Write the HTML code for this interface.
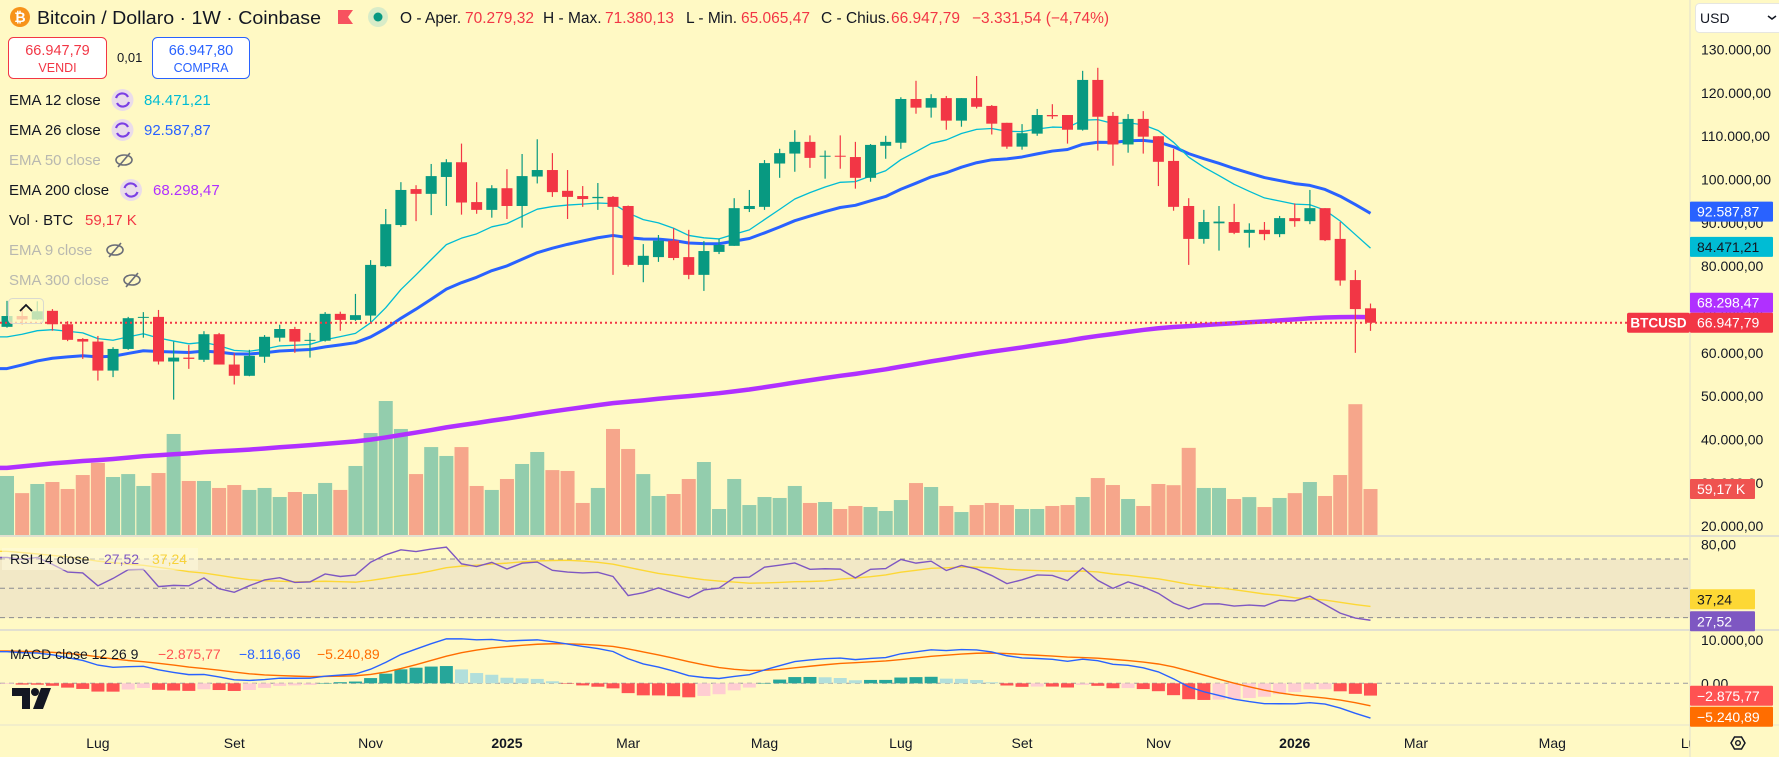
<!DOCTYPE html>
<html><head><meta charset="utf-8"><title>BTCUSD 1W</title>
<style>
html,body{margin:0;padding:0;background:#fff9c4;}
svg{display:block;font-family:"Liberation Sans",sans-serif;}
</style></head>
<body>
<svg id="chart" xmlns="http://www.w3.org/2000/svg" width="1779" height="757" viewBox="0 0 1779 757">
<defs>
<clipPath id="plotClip"><rect x="0" y="0" width="1690" height="536"/></clipPath>
<clipPath id="rsiClip"><rect x="0" y="537" width="1690" height="92"/></clipPath>
<clipPath id="macdClip"><rect x="0" y="631" width="1690" height="93"/></clipPath>
<clipPath id="timeClip"><rect x="0" y="726" width="1690" height="31"/></clipPath>
</defs>
<rect x="0" y="0" width="1779" height="757" fill="#fff9c4"/>
<rect x="0" y="559.3" width="1690" height="58.7" fill="#f2e8c6"/>
<g id="gVol" clip-path="url(#plotClip)"></g>
<g id="gLines" clip-path="url(#plotClip)"></g>
<g id="gCandles" clip-path="url(#plotClip)"></g>
<g id="gRsi" clip-path="url(#rsiClip)"></g>
<g id="gMacd" clip-path="url(#macdClip)"></g>
<line x1="0" y1="322.7" x2="1627" y2="322.7" stroke="#f23645" stroke-width="2" stroke-dasharray="2 3"/>
<line x1="0" y1="536" x2="1779" y2="536" stroke="#e2e0d0" stroke-width="2"/>
<line x1="0" y1="630" x2="1779" y2="630" stroke="#e2e0d0" stroke-width="2"/>
<line x1="0" y1="725" x2="1779" y2="725" stroke="#e6e3cf" stroke-width="1"/>
<line x1="1690" y1="0" x2="1690" y2="757" stroke="#e2e0d0" stroke-width="1"/>
<g id="gAxis"></g>
<g id="gTime" clip-path="url(#timeClip)"></g>
<g id="gTags"></g>

<g>
<circle cx="20" cy="17" r="10" fill="#f7931a"/>
<text x="20" y="22" font-size="14" font-weight="bold" fill="#fff" text-anchor="middle">₿</text>
<text x="37" y="24" font-size="18" fill="#131722" textLength="284" lengthAdjust="spacingAndGlyphs">Bitcoin / Dollaro · 1W · Coinbase</text>
<path d="M338 10 H353 L348 17 L353 24 H338 Z" fill="#f7525f"/>
<circle cx="378" cy="17" r="10" fill="#d8ecc8"/>
<circle cx="378" cy="17" r="4.5" fill="#089981"/>
<text y="23" font-size="15.5" fill="#131722"><tspan x="400">O - Aper.</tspan><tspan x="465" fill="#f23645">70.279,32</tspan><tspan x="543">H - Max.</tspan><tspan x="605" fill="#f23645">71.380,13</tspan><tspan x="686">L - Min.</tspan><tspan x="741" fill="#f23645">65.065,47</tspan><tspan x="821">C - Chius.</tspan><tspan x="891" fill="#f23645">66.947,79</tspan><tspan x="972" fill="#f23645">−3.331,54 (−4,74%)</tspan></text>
</g>
<g>
<rect x="8.5" y="37.5" width="98" height="41" rx="5" fill="#ffffff" stroke="#f23645"/>
<text x="57.5" y="55" font-size="14.5" fill="#f23645" text-anchor="middle">66.947,79</text>
<text x="57.5" y="72" font-size="12.5" fill="#f23645" text-anchor="middle">VENDI</text>
</g>
<text x="117" y="62" font-size="13" fill="#131722">0,01</text>
<g>
<rect x="152.5" y="37.5" width="97" height="41" rx="5" fill="#ffffff" stroke="#2962ff"/>
<text x="201" y="55" font-size="14.5" fill="#2962ff" text-anchor="middle">66.947,80</text>
<text x="201" y="72" font-size="12.5" fill="#2962ff" text-anchor="middle">COMPRA</text>
</g>
<g font-size="15">
<text x="9" y="105" fill="#131722">EMA 12 close</text>
<circle cx="122.5" cy="100" r="11" fill="#eadcea"/><path d="M116 98 A6.5 6.5 0 0 1 128 97 M129 102 A6.5 6.5 0 0 1 117 103" fill="none" stroke="#7b3fe4" stroke-width="2.2"/>
<text x="144" y="105" fill="#00bcd4">84.471,21</text>
<text x="9" y="135" fill="#131722">EMA 26 close</text>
<circle cx="122.5" cy="130" r="11" fill="#eadcea"/><path d="M116 128 A6.5 6.5 0 0 1 128 127 M129 132 A6.5 6.5 0 0 1 117 133" fill="none" stroke="#7b3fe4" stroke-width="2.2"/>
<text x="144" y="135" fill="#2962ff">92.587,87</text>
<text x="9" y="165" fill="#b8b8b0">EMA 50 close</text>
<g fill="none" stroke="#6a6d78" stroke-width="1.6"><ellipse cx="124" cy="160" rx="8" ry="5"/><line x1="118" y1="167" x2="130" y2="153"/></g>
<text x="9" y="195" fill="#131722">EMA 200 close</text>
<circle cx="131" cy="190" r="11" fill="#eadcea"/><path d="M124.5 188 A6.5 6.5 0 0 1 136.5 187 M137.5 192 A6.5 6.5 0 0 1 125.5 193" fill="none" stroke="#7b3fe4" stroke-width="2.2"/>
<text x="153" y="195" fill="#b030ff">68.298,47</text>
<text x="9" y="225" fill="#131722">Vol · BTC</text>
<text x="85" y="225" fill="#f23645">59,17 K</text>
<text x="9" y="255" fill="#b8b8b0">EMA 9 close</text>
<g fill="none" stroke="#6a6d78" stroke-width="1.6"><ellipse cx="115" cy="250" rx="8" ry="5"/><line x1="109" y1="257" x2="121" y2="243"/></g>
<text x="9" y="285" fill="#b8b8b0">SMA 300 close</text>
<g fill="none" stroke="#6a6d78" stroke-width="1.6"><ellipse cx="132" cy="280" rx="8" ry="5"/><line x1="126" y1="287" x2="138" y2="273"/></g>
</g>
<g id="collapseBtn">
<rect x="8.5" y="298.5" width="35" height="25" rx="4" fill="#fff9c4" fill-opacity="0.75" stroke="#d9d9d0"/>
<path d="M20 311 L26 305 L32 311" fill="none" stroke="#131722" stroke-width="1.8"/>
</g>
<rect x="2" y="548" width="196" height="22" fill="#fffbe0" fill-opacity="0.5"/>
<text y="564" font-size="14" fill="#131722"><tspan x="10">RSI 14 close</tspan><tspan x="104" fill="#7e57c2">27,52</tspan><tspan x="152" fill="#f7d23a">37,24</tspan></text>
<text y="659" font-size="14" fill="#131722"><tspan x="10">MACD close 12 26 9</tspan><tspan x="158" fill="#ff5252">−2.875,77</tspan><tspan x="239" fill="#2962ff">−8.116,66</tspan><tspan x="317" fill="#ff6d00">−5.240,89</tspan></text>
<g>
<path d="M12 688 H30 V709 H22 V696 H12 Z" fill="#131722"/>
<circle cx="35" cy="692" r="4" fill="#131722"/>
<path d="M41 688 H51 L43 709 H33 Z" fill="#131722"/>
</g>
<g>
<rect x="1695.5" y="3.5" width="90" height="29" rx="4" fill="#ffffff" stroke="#e6e6e0"/>
<text x="1700" y="23" font-size="14" fill="#131722">USD</text>
<path d="M1768 16 L1772 19 L1776 16" fill="none" stroke="#131722" stroke-width="1.5"/>
</g>
<g>
<path d="M1731 743 L1734.5 737 H1741.5 L1745 743 L1741.5 749 H1734.5 Z" fill="none" stroke="#131722" stroke-width="1.5"/>
<circle cx="1738" cy="743" r="2.3" fill="none" stroke="#131722" stroke-width="1.4"/>
</g>
</svg>

<script>
// ---- data (prices in thousands USD, volumes in thousands BTC) ----
const opens  = [66.0,68.5,67.7,69.7,66.6,63.2,62.6,55.9,60.9,68.1,68.3,58.0,58.9,58.4,64.3,57.3,54.7,59.1,63.5,65.5,62.8,62.8,69.0,67.6,68.6,80.0,89.5,97.8,96.7,100.6,104.0,94.8,93.0,98.0,93.9,100.7,102.2,97.4,96.2,95.7,96.0,93.9,80.3,82.1,85.9,82.1,78.0,83.3,84.7,93.2,93.7,103.7,106.0,108.7,105.3,105.5,105.2,100.4,107.8,108.5,118.6,116.6,118.8,113.6,118.8,117.0,113.1,107.6,110.6,114.9,114.9,111.5,123.0,114.7,108.1,114.0,110.0,104.3,93.9,86.3,89.9,90.2,87.7,88.4,87.4,91.1,90.4,93.4,86.3,76.8,70.28];
const highs  = [72.0,70.6,71.9,70.1,67.3,63.4,63.9,61.3,68.3,69.4,69.9,62.6,61.8,65.0,64.6,59.9,60.7,64.1,66.5,66.0,64.6,69.4,69.5,73.6,81.4,93.2,99.4,98.7,103.6,104.7,108.3,99.4,98.7,102.4,105.9,109.3,106.1,102.2,98.5,99.2,96.2,94.0,85.1,87.2,88.8,88.4,85.8,86.3,95.7,97.6,104.5,107.1,111.4,110.2,106.7,110.2,108.7,108.2,110.1,119.0,122.8,119.7,119.3,118.8,123.9,117.2,113.1,112.8,116.3,117.4,114.9,125.1,125.8,115.6,115.1,115.8,110.0,107.1,95.7,93.0,93.9,94.4,89.9,90.2,91.6,94.5,97.6,93.4,90.2,79.1,71.38];
const lows   = [65.8,66.6,67.6,65.1,62.7,58.6,53.6,54.4,60.7,63.5,57.3,49.2,56.3,57.9,57.3,52.7,54.6,57.7,62.6,60.0,58.9,62.6,65.1,67.4,66.8,79.8,89.1,90.4,91.8,93.9,91.9,92.1,91.2,90.9,88.9,99.1,96.0,90.9,93.7,93.0,78.0,79.9,76.3,81.0,81.4,77.0,74.3,82.8,84.7,92.5,93.0,100.4,101.8,102.7,100.2,102.5,97.9,99.5,104.8,107.1,115.2,114.3,111.5,112.2,116.4,110.4,107.1,106.9,110.1,114.0,108.3,111.3,106.7,103.2,106.2,106.0,98.5,92.8,80.3,85.2,83.6,87.4,84.3,86.0,86.7,89.1,89.7,85.8,75.5,60.0,65.07];
const closes = [68.5,67.7,69.6,66.6,63.0,62.6,55.9,60.9,68.0,68.3,58.0,58.9,58.6,64.3,57.3,54.7,59.3,63.7,65.5,62.6,63.0,69.0,67.6,68.7,80.3,89.7,97.6,96.7,100.8,104.0,94.7,93.0,98.0,93.9,100.8,102.2,97.1,96.0,95.5,96.0,93.7,80.3,82.4,85.9,81.9,78.0,83.5,84.9,93.4,93.9,103.8,106.1,108.7,105.0,105.5,105.3,100.4,108.0,108.7,118.6,116.6,118.8,113.6,118.8,116.8,112.9,107.6,110.7,114.9,114.6,111.5,123.0,114.5,108.1,114.0,109.9,104.1,93.7,86.3,90.2,90.3,87.7,88.4,87.4,91.1,90.4,93.4,86.0,76.7,70.1,66.95];
const volumes= [75.6,54,65.5,68,59.2,76.8,92,74.3,78,63,79.3,128.5,69.3,69.3,60.5,64.2,58,60.5,49.1,55.4,52.9,66.8,58,88.2,129.7,170,134.8,78,112,100.8,112,63,58,71.8,90.7,105.8,83,81.9,41.6,60.5,134.8,109.6,78,50.4,52.9,71.8,93.2,34,71.8,39,49.1,47.9,63,41.6,42.8,34,37.8,36.5,31.5,45.3,66.7,61.7,37.8,30.2,39,41.6,39,34,34,37.8,39,49.1,73,64.2,46.6,37.8,65.5,64,111,60.5,60.5,46.6,49,36.5,47.9,54,68,50.4,76.8,166,59.17];
const ema12Seed = 62.8;
const ema26Seed = 55.4;
const ema200Seed = 33.1;
const signalSeed = 7.5;
const rsiGainSeed = 2.5;
const rsiLossSeed = 1.1;
const rsiPrior = [82,84,80,76,78,74,72,76,74,70,72,74,70];
const priceTicks = [130,120,110,100,90,80,70,60,50,40,30,20];
const timeLabels = ['Lug','Set','Nov','2025','Mar','Mag','Lug','Set','Nov','2026','Mar','Mag','Lu'];
const timeIndex  = [6,15,24,33,41,50,59,67,76,85,93,102,111];
const tagValues = {ema26:'92.587,87', ema12:'84.471,21', ema200:'68.298,47', last:'66.947,79', vol:'59,17 K', rsiMa:'37,24', rsi:'27,52', hist:'−2.875,77', signal:'−5.240,89'};

const xOf = i => 7 + 15.15*i;
const yP = p => 49.6 + (130 - p)*4.332;
const yV = v => 536 - v*0.794;
const yR = r => 588.3 - (r - 50)*1.467;
const yM = m => 683.3 - m*4.33;

const NS='http://www.w3.org/2000/svg';
function mk(tag, attrs, parent){const e=document.createElementNS(NS,tag);for(const k in attrs)e.setAttribute(k,attrs[k]);parent.appendChild(e);return e;}
const gVol=document.getElementById('gVol'), gLines=document.getElementById('gLines'), gC=document.getElementById('gCandles');
const gRsi=document.getElementById('gRsi'), gMacd=document.getElementById('gMacd');
const gAxis=document.getElementById('gAxis'), gTime=document.getElementById('gTime'), gTags=document.getElementById('gTags');
const n = closes.length;

for(let i=0;i<n;i++){
  const up = closes[i]>=opens[i];
  const r = mk('rect',{x:xOf(i)-7,y:yV(volumes[i]),width:14,height:536-yV(volumes[i]),fill:up?'#93cdad':'#f6a68b'},gVol);
  
  
}
function ema(seed, period){const a=2/(period+1);let v=seed;return closes.map(c=>(v=v+a*(c-v)));}
const e12=ema(ema12Seed,12), e26=ema(ema26Seed,26), e200=ema(ema200Seed,200);
function linePts(arr, yf){let s='0,'+yf(arr[0]);arr.forEach((v,i)=>{s+=' '+xOf(i)+','+yf(v);});return s;}
const l200=mk('polyline',{points:linePts(e200,yP),fill:'none',stroke:'#b030ff',"stroke-width":4.5,"stroke-linejoin":'round'},gLines);


const l26=mk('polyline',{points:linePts(e26,yP),fill:'none',stroke:'#2962ff',"stroke-width":3,"stroke-linejoin":'round'},gLines);


const l12=mk('polyline',{points:linePts(e12,yP),fill:'none',stroke:'#00bcd4',"stroke-width":1.3,"stroke-linejoin":'round'},gLines);


for(let i=0;i<n;i++){
  const up=closes[i]>=opens[i], col=up?'#089981':'#f23645', x=xOf(i);
  const g=mk('g',{},gC);
  
  
  mk('line',{x1:x,x2:x,y1:yP(highs[i]),y2:yP(lows[i]),stroke:col,"stroke-width":1.2},g);
  const top=yP(Math.max(opens[i],closes[i])), bot=yP(Math.min(opens[i],closes[i]));
  mk('rect',{x:x-5.5,y:top,width:11,height:Math.max(1,bot-top),fill:col},g);
}
const rsi=[];{let ag=rsiGainSeed, al=rsiLossSeed, prev=opens[0];
closes.forEach(c=>{const d=c-prev;prev=c;ag=(ag*13+Math.max(d,0))/14;al=(al*13+Math.max(-d,0))/14;rsi.push(100-100/(1+ag/al));});}
const allR=rsiPrior.concat(rsi), rsiMa=rsi.map((_,i)=>{let s=0;for(let k=i;k<i+14;k++)s+=allR[k];return s/14;});
[70,50,30].forEach(v=>{const d=mk('line',{x1:0,x2:1690,y1:yR(v),y2:yR(v),stroke:'#8a8a90',"stroke-width":1,"stroke-dasharray":'5 4'},gRsi);

});
const rm=mk('polyline',{points:linePts(rsiMa,yR),fill:'none',stroke:'#fdd835',"stroke-width":1.4},gRsi);


const rl=mk('polyline',{points:linePts(rsi,yR),fill:'none',stroke:'#7e57c2',"stroke-width":1.4},gRsi);


const macd=e12.map((v,i)=>v-e26[i]);
const sig=[];{let s=signalSeed;macd.forEach(m=>{s=s+0.2*(m-s);sig.push(s);});}
const hist=macd.map((m,i)=>m-sig[i]);
const z=mk('line',{x1:0,x2:1690,y1:yM(0),y2:yM(0),stroke:'#9a9aa0',"stroke-width":1,"stroke-dasharray":'5 4'},gMacd);


hist.forEach((h,i)=>{const p=i?hist[i-1]:h;let c;
  if(h>=0)c=h>p?'#26a69a':'#b2dfdb';else c=h<p?'#ff5252':'#ffcdd2';
  const y0=yM(0), y1=yM(h);
  const b=mk('rect',{x:xOf(i)-6.5,y:Math.min(y0,y1),width:13,height:Math.max(0.5,Math.abs(y1-y0)),fill:c},gMacd);
  
  
});
const ms=mk('polyline',{points:linePts(sig,yM),fill:'none',stroke:'#ff6d00',"stroke-width":1.4},gMacd);


const ml=mk('polyline',{points:linePts(macd,yM),fill:'none',stroke:'#2962ff',"stroke-width":1.4},gMacd);


function fmtTick(v){const s=String(v*1000);return s.replace(/\B(?=(\d{3})+(?!\d))/g,'.')+',00';}
priceTicks.forEach(t=>{const tx=mk('text',{x:1701,y:yP(t)+5,"font-size":14,fill:'#131722'},gAxis);tx.textContent=fmtTick(t);

});
const r80=mk('text',{x:1701,y:yR(80)+5,"font-size":14,fill:'#131722'},gAxis);r80.textContent='80,00';


[[10,'10.000,00'],[0,'0,00']].forEach(([v,s])=>{const t=mk('text',{x:1701,y:yM(v)+5,"font-size":14,fill:'#131722'},gAxis);t.textContent=s;

});
timeLabels.forEach((lb,k)=>{const t=mk('text',{x:xOf(timeIndex[k]),y:748,"font-size":14,fill:'#131722',"text-anchor":'middle',"font-weight":/^\d+$/.test(lb)?'bold':'normal'},gTime);t.textContent=lb;

});
function tag(cy,txt,bg,fg,w,name){const g=mk('g',{},gTags);


mk('rect',{x:1690,y:cy-10,width:w,height:20,fill:bg,rx:1},g);const t=mk('text',{x:1697,y:cy+5,"font-size":14,fill:fg},g);t.textContent=txt;}
tag(yP(92.58787),tagValues.ema26,'#2962ff','#fff',83,'ema26-price-tag');
tag(yP(84.47121),tagValues.ema12,'#00bcd4','#131722',83,'ema12-price-tag');
tag(yP(66.94779)-20,tagValues.ema200,'#b030ff','#fff',83,'ema200-price-tag');
tag(yP(66.94779),tagValues.last,'#f23645','#fff',83,'last-price-tag');
tag(yV(59.17),tagValues.vol,'#ef5350','#fff',65,'volume-tag');
tag(yR(27.52),tagValues.rsi,'#7e57c2','#fff',65,'rsi-tag');
tag(yR(27.52)-22,tagValues.rsiMa,'#fdd835','#131722',65,'rsi-ma-tag');
tag(yM(-2.87577),tagValues.hist,'#ff5252','#fff',83,'macd-hist-tag');
tag(yM(-2.87577)+21,tagValues.signal,'#ff6d00','#fff',83,'macd-signal-tag');
const bt=mk('g',{},gTags);


mk('rect',{x:1627,y:yP(66.94779)-10,width:63,height:20,fill:'#f23645',rx:2},bt);
const btt=mk('text',{x:1658.5,y:yP(66.94779)+5,"font-size":13.5,"font-weight":'bold',fill:'#fff',"text-anchor":'middle'},bt);btt.textContent='BTCUSD';
</script>
</body></html>
